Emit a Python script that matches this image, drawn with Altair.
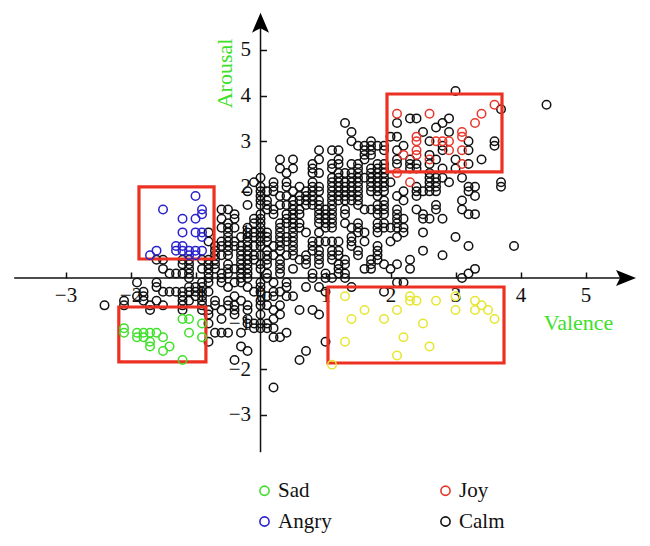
import altair as alt
import pandas as pd

# Valence values in tenths, grouped by arousal in tenths
calm_rows = {
 41:[30], 38:[44], 37:[37], 35:[23,24,29], 34:[13,21,28], 33:[27], 32:[14,25,29], 31:[20,21],
 30:[14,17,26,32,36], 29:[15,16,17,18,19,22,28,36], 28:[9,11,12,16,17,19,21,28,32], 27:[16,17,26],
 26:[3,5,9,12,16,21,23,27,30,34], 25:[8,11,12,14,15,18,19,21,23,24,26,32],
 24:[3,5,8,11,15,17,18,19,23,24,28,30], 23:[4,8,9,12,13,14,15,17,18,19,26],
 22:[0,11,12,14,15,16,17,18,19,26,27,28,31], 21:[-1,2,4,8,11,12,13,14,15,17,18,19,20,26,27,29,37],
 20:[0,2,4,6,8,9,11,12,13,14,15,17,18,19,24,26,27,32,33,37],
 19:[-2,0,1,2,5,7,8,9,11,12,13,14,15,17,18,19,22,24,25,26,27,32],
 18:[0,3,4,6,7,8,11,12,13,14,15,18,21,24,33], 17:[0,1,5,6,7,8,9,11,12,13,14,15,19,22,31],
 16:[-2,0,1,3,4,5,7,8,9,11,15,18,19,27], 15:[-6,-5,1,2,5,6,9,10,11,13,16,17,18,19,21,24,27,31],
 14:[-4,0,2,4,5,6,9,10,11,13,18,19,21,25,32,33], 13:[-6,-4,-1,0,4,5,9,10,11,21,22,25,26,28],
 12:[-5,-1,0,3,4,5,6,9,10,11,13,15,18,19,21], 11:[-6,-5,-4,-2,0,3,5,6,10,11,14,15,18,19,20,21,22],
 10:[-8,-5,-2,-1,0,1,3,5,7,9,15,16,18,22,25], 9:[-5,-3,-2,-1,0,1,3,4,5,14,21,30],
 8:[-8,-6,-5,-4,-2,0,1,3,4,5,8,9,10,11,12,14,16,20], 7:[-7,-6,-5,-4,-3,-2,-1,0,2,3,5,8,14,18,32,39],
 6:[-7,-5,-3,-2,1,3,5,8,9,11,12,15,18,25], 5:[-7,-6,-5,-3,-2,-1,0,1,2,4,5,7,9,11,12,15,18,28],
 4:[-16,-15,-12,-11,-9,-8,-7,-3,-2,-1,1,3,6,7,9,11,13,17,18,23],
 3:[-12,-11,-8,-7,-5,-3,-2,0,1,3,7,9,12,13,17,19,21],
 2:[-15,-11,-9,-8,-7,-5,-4,-3,-2,0,3,5,12,16,17,20,23,33],
 1:[-14,-13,-12,-11,-8,-6,-5,-3,-2,1,3,8,10,12,13,32],
 0:[-11,-8,-6,-3,-2,1,8,10,11,13,31],
 -1:[-19,-16,-9,-8,-6,-4,-3,0,2,4,21,22], -2:[-16,-11,-10,-9,-5,-2,0,4,7,9,14],
 -3:[-18,-15,-14,-13,-12,-11,-10,-9,-8,-1,0,2,3,10,19], -4:[-19,-18,-12,-10,-9,-4,1,2,4,5],
 -5:[-21,-18,-16,-12,-11,-9,-7,-5,-3,0], -6:[-24,-21,-17,-15,-12,-9,-7,-5,-4,-2,0,1,3],
 -7:[-17,-12,-9,-8,-6,-4,-2,2,6,8], -8:[-8,-4,0,3,9], -9:[-6,-2,2], -10:[-8,-2,-1,0,1],
 -11:[-1,0,1,2], -12:[-7,-6,-5,-3,4], -13:[2,3], -14:[-8,10], -15:[-3], -16:[-2,7], -18:[-4,6], -24:[2],
}
sad_x = [-2.1,-2.1,-1.9,-1.8,-1.7,-1.6,-1.9,-1.8,-1.5,-1.7,-1.7,-1.4,-1.5,-1.2,-1.2,-1.1,-0.9,-1.1,-0.9]
sad_y = [-1.1,-1.2,-1.2,-1.2,-1.2,-1.2,-1.3,-1.3,-1.3,-1.4,-1.5,-1.5,-1.6,-1.8,-0.9,-0.9,-1.0,-1.2,-1.3]
angry_x = [-1.0,-1.5,-0.9,-0.9,-1.2,-1.0,-1.2,-1.0,-0.9,-0.9,-1.3,-1.2,-1.3,-1.2,-1.1,-1.0,-0.9,-1.6,-1.7,-1.1,-1.0]
angry_y = [1.8,1.5,1.5,1.4,1.3,1.3,1.0,1.0,1.0,0.9,0.7,0.7,0.6,0.6,0.6,0.6,0.6,0.6,0.5,0.5,0.5]
joy_x = [2.1,2.6,3.6,3.4,3.3,3.1,3.1,2.4,2.4,2.7,2.8,2.9,2.4,2.9,3.1,2.2,2.4,2.6,3.1,2.1,2.3]
joy_y = [3.6,3.6,3.8,3.6,3.4,3.2,3.1,3.1,3.0,3.0,3.0,3.0,2.8,2.8,2.8,2.7,2.7,2.6,2.5,2.3,2.1]
yellow_x = [1.3,1.4,1.6,1.3,1.1,1.9,2.1,2.1,2.2,2.3,2.3,2.4,2.5,2.6,2.7,3.0,3.0,3.3,3.3,3.4,3.5,3.6]
yellow_y = [-0.4,-0.9,-0.7,-1.4,-1.9,-0.9,-0.7,-1.7,-1.3,-0.4,-0.5,-0.5,-1.0,-1.5,-0.5,-0.4,-0.7,-0.5,-0.7,-0.6,-0.7,-0.9]

box_x0 = [-1.87,-2.18,1.946,1.038]
box_x1 = [-0.715,-0.84,3.715,3.746]
box_y0 = [2.0,-0.636,4.035,-0.197]
box_y1 = [0.417,-1.84,2.325,-1.864]

x_ticks = [-3,-2,-1,0,1,2,3,4,5]
y_ticks = [-3,-2,-1,1,2,3,4,5]
order = ["Sad","Angry","Joy","Calm"]
colors = ["#3fe02a","#2a22cc","#e8362a","#111111"]
axis_x_range = [-3.79, 5.7]
axis_y_range = [-3.82, 5.5]
arrow_right_x, arrow_up_y = 5.623, 5.6

W, H = 634, 530
xd = [-3.885, 5.869]
yd = [-5.702, 5.921]
FONT = "Liberation Serif"

rows = [{"v":x/10,"a":y/10,"e":"Calm"} for y,xs in calm_rows.items() for x in xs]
others = [{"v":x,"a":y,"e":"Sad"} for x,y in zip(sad_x,sad_y)]
others += [{"v":x,"a":y,"e":"Angry"} for x,y in zip(angry_x,angry_y)]
others += [{"v":x,"a":y,"e":"Joy"} for x,y in zip(joy_x,joy_y)]
yellow = pd.DataFrame({"v":yellow_x,"a":yellow_y})
boxes = pd.DataFrame({"x":box_x0,"x2":box_x1,"y":box_y0,"y2":box_y1})

xs = alt.Scale(domain=xd, nice=False, zero=False)
ys = alt.Scale(domain=yd, nice=False, zero=False)
xaxis = alt.Axis(orient="top", offset=-270, values=x_ticks, format="d", grid=False, domain=False,
    tickSize=6, tickColor="#111111", tickWidth=1.5, labelPadding=-23, labelBaseline="middle", labelFontSize=21,
    labelFont=FONT, labelColor="#111111", title="Valence", titleColor="#3fe02a", titleFont=FONT,
    titleFontSize=22, titleFontWeight="normal", titleX=570, titleY=44, titleBaseline="middle", titleAlign="center")
yaxis = alt.Axis(orient="right", offset=-381.5, values=y_ticks, format="d", grid=False, domain=False,
    tickSize=6, tickColor="#111111", tickWidth=1.5, labelPadding=-16, labelAlign="right", labelFontSize=21,
    labelFont=FONT, labelColor="#111111", title="Arousal", titleColor="#3fe02a", titleFont=FONT,
    titleFontSize=22, titleFontWeight="normal", titleX=-36, titleY=65, titleAngle=270,
    titleBaseline="middle", titleAlign="center")

color = alt.Color("e:N", scale=alt.Scale(domain=order, range=colors), sort=order,
    legend=alt.Legend(orient="none", legendX=246, legendY=472, columns=2, title=None, labelFont=FONT,
        labelFontSize=21, labelColor="#111111", symbolSize=85, symbolStrokeWidth=1.6, symbolType="circle",
        labelOffset=3, columnPadding=103, rowPadding=9, symbolFillColor="transparent"))
pt = dict(filled=False, size=72, strokeWidth=1.5, opacity=1, shape="circle")

calm = alt.Chart(pd.DataFrame(rows)).mark_point(**pt).encode(
    x=alt.X("v:Q", scale=xs, axis=xaxis), y=alt.Y("a:Q", scale=ys, axis=yaxis), color=color)
rects = alt.Chart(boxes).mark_rect(fill="transparent", stroke="#ec3022", strokeWidth=3.2).encode(
    x=alt.X("x:Q", scale=xs), x2="x2:Q", y=alt.Y("y:Q", scale=ys), y2="y2:Q")
emo = alt.Chart(pd.DataFrame(others)).mark_point(**pt).encode(
    x=alt.X("v:Q", scale=xs), y=alt.Y("a:Q", scale=ys), color=color)
yel = alt.Chart(yellow).mark_point(filled=False, size=72, strokeWidth=1.5, opacity=1, shape="circle", color="#e6e62e").encode(
    x=alt.X("v:Q", scale=xs), y=alt.Y("a:Q", scale=ys))
xline = alt.Chart(pd.DataFrame({"x":[axis_x_range[0]],"x2":[axis_x_range[1]],"y":[0]})).mark_rule(color="#111111", strokeWidth=1.5).encode(
    x=alt.X("x:Q", scale=xs), x2="x2:Q", y=alt.Y("y:Q", scale=ys))
yline = alt.Chart(pd.DataFrame({"y":[axis_y_range[0]],"y2":[axis_y_range[1]],"x":[0]})).mark_rule(color="#111111", strokeWidth=1.5).encode(
    x=alt.X("x:Q", scale=xs), y=alt.Y("y:Q", scale=ys), y2="y2:Q")
arrow_r = alt.Chart(pd.DataFrame({"x":[arrow_right_x],"y":[0]})).mark_point(
    shape="M1,0 L-1,-0.8 L-0.6,0 L-1,0.8 Z", size=400, filled=True, color="#000000", opacity=1).encode(
    x=alt.X("x:Q", scale=xs), y=alt.Y("y:Q", scale=ys))
arrow_u = alt.Chart(pd.DataFrame({"x":[0],"y":[arrow_up_y]})).mark_point(
    shape="M0,-1 L0.85,1 L0,0.55 L-0.85,1 Z", size=400, filled=True, color="#000000", opacity=1).encode(
    x=alt.X("x:Q", scale=xs), y=alt.Y("y:Q", scale=ys))

chart = alt.layer(calm, rects, emo, yel, xline, yline, arrow_r, arrow_u).resolve_scale(color="shared").properties(
    width=W, height=H, padding=0, autosize=alt.AutoSizeParams(type="none"), background="white"
).configure_view(stroke=None)
chart.save("out.html", embed_options={"renderer": "svg", "actions": False})
